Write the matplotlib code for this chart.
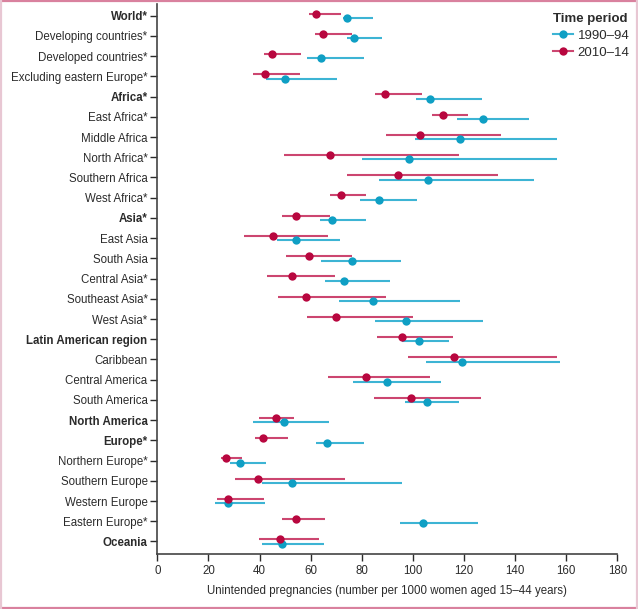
import matplotlib

matplotlib.use("Agg")
import matplotlib.pyplot as plt
from matplotlib.lines import Line2D
import numpy as np

plt.rcParams["font.family"] = ["Liberation Sans", "DejaVu Sans"]

REGIONS = [
    "World*", "Developing countries*", "Developed countries*", "Excluding eastern Europe*",
    "Africa*", "East Africa*", "Middle Africa", "North Africa*", "Southern Africa", "West Africa*",
    "Asia*", "East Asia", "South Asia", "Central Asia*", "Southeast Asia*", "West Asia*",
    "Latin American region", "Caribbean", "Central America", "South America",
    "North America",
    "Europe*", "Northern Europe*", "Southern Europe", "Western Europe", "Eastern Europe*",
    "Oceania",
]
BOLD_REGIONS = {"World*", "Africa*", "Asia*", "Latin American region", "North America", "Europe*", "Oceania"}

# 1990-94 estimates with uncertainty interval
RATE_1990 = [74.3, 77.0, 64.2, 49.8, 106.7, 127.3, 118.6, 98.5, 105.8, 86.7,
             68.3, 54.4, 76.3, 72.9, 84.3, 97.4, 102.5, 119.3, 89.9, 105.5,
             49.6, 66.3, 32.4, 52.6, 27.8, 104.1, 48.9]
LOW_1990 = [72.5, 74.1, 58.4, 42.5, 101.2, 117.4, 100.8, 80.1, 86.7, 79.3,
            63.7, 46.9, 64.0, 65.6, 71.0, 85.3, 95.9, 105.0, 76.7, 96.9,
            37.3, 62.0, 28.4, 41.0, 22.6, 95.0, 41.0]
HIGH_1990 = [84.3, 87.8, 80.9, 70.4, 126.9, 145.4, 156.3, 156.3, 147.4, 101.6,
             81.5, 71.5, 95.3, 91.0, 118.4, 127.3, 114.2, 157.6, 111.1, 117.9,
             67.1, 80.9, 42.5, 95.7, 42.3, 125.4, 65.1]

# 2010-14 estimates with uncertainty interval
RATE_2010 = [62.0, 64.8, 45.0, 42.0, 89.1, 111.9, 102.8, 67.6, 94.3, 71.9,
             54.4, 45.4, 59.5, 52.6, 58.3, 69.9, 95.6, 116.0, 81.6, 99.4,
             46.4, 41.2, 26.9, 39.4, 27.7, 54.1, 47.9]
LOW_2010 = [59.2, 61.7, 41.7, 37.6, 85.3, 107.4, 89.4, 49.7, 74.3, 67.6,
            48.9, 34.0, 50.5, 42.9, 47.2, 58.6, 86.1, 98.2, 66.9, 84.8,
            39.8, 38.3, 24.8, 30.4, 23.2, 48.7, 39.9]
HIGH_2010 = [71.8, 76.0, 56.1, 55.8, 103.4, 121.7, 134.5, 118.2, 133.2, 81.6,
             67.7, 66.7, 76.0, 69.5, 89.5, 100.2, 115.7, 156.3, 106.8, 126.5,
             53.5, 51.1, 33.3, 73.3, 41.7, 65.5, 63.2]

BLUE = "#0f9fc4"
BLUE_LINE = "#3db4d4"
RED = "#b8073f"
RED_LINE = "#cc4670"
TEXT = "#2b2b2b"


def draw_period(ax, ypos, rate, low, high, point_color, line_color):
    rate = np.asarray(rate)
    xerr = np.vstack([rate - np.asarray(low), np.asarray(high) - rate])
    ax.errorbar(rate, ypos, xerr=xerr, fmt="none", ecolor=line_color, elinewidth=1.5, capsize=0, zorder=2)
    ax.plot(rate, ypos, "o", color=point_color, markersize=6, markeredgewidth=0, zorder=3)


fig = plt.figure(figsize=(6.38, 6.09), dpi=100)
ax = fig.add_axes([0.2466, 0.0903, 0.721, 0.9038])

rows = np.arange(len(REGIONS))
draw_period(ax, rows + 0.11, RATE_1990, LOW_1990, HIGH_1990, BLUE, BLUE_LINE)
draw_period(ax, rows - 0.11, RATE_2010, LOW_2010, HIGH_2010, RED, RED_LINE)

ax.set_xlim(0, 180)
ax.set_ylim(len(REGIONS) - 1 + 0.62, -0.6)
ax.set_xticks(np.arange(0, 181, 20))
ax.set_yticks(rows)
ax.set_yticklabels(REGIONS)
for label in ax.get_yticklabels():
    if label.get_text() in BOLD_REGIONS:
        label.set_fontweight("bold")

ax.tick_params(axis="both", labelsize=8.3, colors=TEXT, length=5, width=1.0, direction="out")
ax.tick_params(axis="y", pad=2)
ax.tick_params(axis="x", pad=3)
for side in ("top", "right"):
    ax.spines[side].set_visible(False)
for side in ("left", "bottom"):
    ax.spines[side].set_color("#444444")
    ax.spines[side].set_linewidth(1.2)

ax.set_xlabel("Unintended pregnancies (number per 1000 women aged 15\u201344 years)",
              fontsize=8.3, color=TEXT, labelpad=6)

handles = [
    Line2D([], [], color=BLUE_LINE, lw=1.5, marker="o", markersize=6, markerfacecolor=BLUE,
           markeredgewidth=0, label="1990\u201394"),
    Line2D([], [], color=RED_LINE, lw=1.5, marker="o", markersize=6, markerfacecolor=RED,
           markeredgewidth=0, label="2010\u201314"),
]
legend = ax.legend(handles=handles, title="Time period", loc="upper left",
                   bbox_to_anchor=(0.855, 0.988), frameon=False, fontsize=9.5,
                   title_fontproperties={"weight": "bold", "size": 9.5},
                   handlelength=1.5, handletextpad=0.35, labelspacing=0.35,
                   borderaxespad=0.0, borderpad=0.2)
legend._legend_box.align = "left"
for text in legend.get_texts():
    text.set_color(TEXT)
legend.get_title().set_color(TEXT)

# figure frame
fig.add_artist(Line2D([0, 1], [0.998, 0.998], transform=fig.transFigure, color="#d9819e", lw=1.6))
fig.add_artist(Line2D([0, 1], [0.002, 0.002], transform=fig.transFigure, color="#d9819e", lw=1.6))
fig.add_artist(Line2D([0.002, 0.002], [0, 1], transform=fig.transFigure, color="#e8c7d3", lw=1.6))
fig.add_artist(Line2D([0.998, 0.998], [0, 1], transform=fig.transFigure, color="#e8c7d3", lw=1.6))

fig.savefig("out.png", dpi=100)
